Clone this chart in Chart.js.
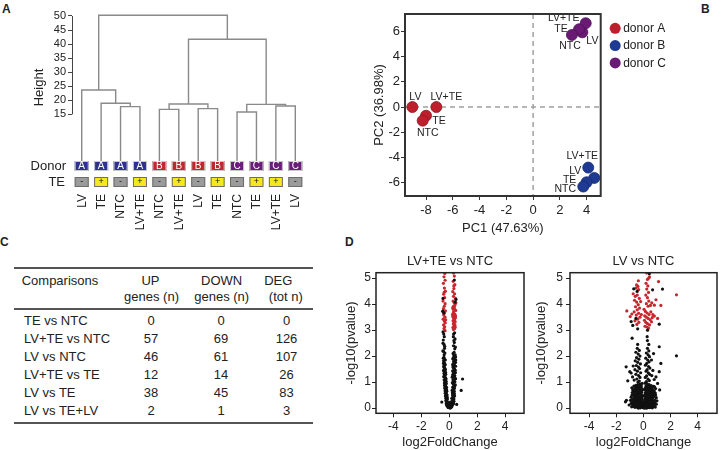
<!DOCTYPE html>
<html>
<head>
<meta charset="utf-8">
<script src="https://cdn.jsdelivr.net/npm/chart.js@4.4.1/dist/chart.umd.min.js"></script>
<style>
  html, body { margin: 0; padding: 0; background: #fff; }
  body { width: 721px; height: 450px; position: relative; overflow: hidden;
         font-family: "Liberation Sans", Arial, sans-serif; color: #222; }
  .box { position: absolute; }
  .tag { position: absolute; font-weight: bold; font-size: 12px; line-height: 12px; }
  .rule { position: absolute; left: 14px; width: 299px; background: #555; }
  .cell { position: absolute; font-size: 13px; line-height: 15px; white-space: nowrap; }
  canvas { display: block; }
</style>
</head>
<body>
<div class="tag" style="left:2px;top:3px">A</div>
<div class="tag" style="left:701px;top:3px">B</div>
<div class="tag" style="left:0px;top:236px">C</div>
<div class="tag" style="left:345px;top:236px">D</div>

<div class="box" style="left:0;top:0;width:320px;height:240px"><canvas id="dendro"></canvas></div>
<div class="box" style="left:360px;top:0;width:361px;height:240px"><canvas id="pca"></canvas></div>
<div id="tableC"></div>
<div class="box" style="left:340px;top:250px;width:190px;height:200px"><canvas id="volc1"></canvas></div>
<div class="box" style="left:530px;top:250px;width:191px;height:200px"><canvas id="volc2"></canvas></div>

<script>
// ---------- A: clustering ----------
const leafNames = ['LV', 'TE', 'NTC', 'LV+TE', 'NTC', 'LV+TE', 'LV', 'TE', 'NTC', 'TE', 'LV+TE', 'LV'];
const leafDonor = ['A', 'A', 'A', 'A', 'B', 'B', 'B', 'B', 'C', 'C', 'C', 'C'];
const leafTE = ['-', '+', '-', '+', '-', '+', '-', '+', '-', '+', '+', '-'];
// hclust style merges: negative = leaf, positive = earlier merge
const mergeA = [-9, -5, -7, -3, -11, 1, 2, -2, -1, 7, 9];
const mergeB = [-10, -6, -8, -4, -12, 5, 3, 4, 8, 6, 10];
const mergeHeight = [15.83, 16.78, 17.02, 17.73, 17.97, 18.56, 18.68, 18.92, 23.66, 41.70, 50.24];
const heightTicks = [15, 20, 25, 30, 35, 40, 45, 50];

// ---------- B: PCA ----------
const donorNames = ['donor A', 'donor B', 'donor C'];
const sampleNames = ['LV', 'LV+TE', 'TE', 'NTC'];
const pc1A = [-9.02, -7.23, -8.00, -8.25];
const pc2A = [0.00, 0.00, -0.69, -1.08];
const pc1B = [4.57, 4.12, 4.00, 3.75];
const pc2B = [-5.62, -4.80, -5.96, -6.30];
const pc1C = [3.68, 3.93, 3.43, 2.90];
const pc2C = [5.92, 6.64, 6.16, 5.71];
const pc1Ticks = [-8, -6, -4, -2, 0, 2, 4];
const pc2Ticks = [-6, -4, -2, 0, 2, 4, 6];

// ---------- C: table ----------
const compNames = ['TE vs NTC', 'LV+TE vs NTC', 'LV vs NTC', 'LV+TE vs TE', 'LV vs TE', 'LV vs TE+LV'];
const upGenes = [0, 57, 46, 12, 38, 2];
const downGenes = [0, 69, 61, 14, 45, 1];
const degTotal = [0, 126, 107, 26, 83, 3];

// ---------- D: volcano plots ----------
const volcTitles = ['LV+TE vs NTC', 'LV vs NTC'];
const fcTicks = [-4, -2, 0, 2, 4];
const pvalTicks = [0, 1, 2, 3, 4, 5];

const lvteRed = [
  [-0.32,5.18],[-0.38,5.05],[-0.30,4.92],[-0.42,4.80],[-0.35,4.62],[-0.28,4.50],[-0.40,4.38],[-0.33,4.25],
  [-0.45,4.12],[-0.30,4.02],[-0.36,3.92],[-0.42,3.83],[-0.28,3.74],[-0.34,3.66],[-0.40,3.58],[-0.31,3.50],
  [-0.44,3.42],[-0.36,3.35],[-0.29,3.28],[-0.41,3.20],[-0.33,3.13],[-0.38,3.06],[-0.30,2.98],[-0.43,3.70],
  [-0.37,4.45],[-0.26,3.40],
  [0.30,5.20],[0.36,5.08],[0.28,4.88],[0.40,4.75],[0.33,4.60],[0.25,4.48],[0.38,4.40],[0.30,4.30],
  [0.44,4.22],[0.27,4.12],[0.35,4.05],[0.41,3.98],[0.30,3.92],[0.24,3.86],[0.37,3.82],[0.46,3.76],
  [0.32,3.72],[0.28,3.66],[0.40,3.62],[0.35,3.56],[0.25,3.52],[0.44,3.48],[0.31,3.44],[0.38,3.40],
  [0.27,3.36],[0.42,3.32],[0.34,3.28],[0.29,3.24],[0.40,3.20],[0.33,3.15],[0.26,3.10],[0.38,3.06],
  [0.30,3.02],[0.45,3.55],[0.36,3.90],[0.23,3.60],[0.47,4.05],[0.32,4.70],[0.29,3.80],[0.43,3.12]
];
const lvteBlack = [
  [-0.45,4.22],[-0.47,3.73],[-0.40,3.66],[0.36,4.93],[0.48,4.18],[0.42,4.08],
  [-0.45,2.93],[-0.40,2.85],[-0.36,2.75],[-0.43,2.62],[-0.38,2.45],[-0.34,2.30],[-0.41,2.18],[-0.37,2.05],
  [-0.45,2.50],[-0.46,2.20],[-0.33,2.38],[-0.32,2.12],
  [0.38,2.90],[0.29,2.75],[0.41,2.66],[0.36,2.52],[0.30,2.40],[0.39,2.28],[0.34,2.15],[0.42,2.05],
  [0.27,2.10],[0.44,2.35],[0.33,2.60],[0.31,2.85],
  [-0.38,1.95],[-0.33,1.88],[-0.41,1.82],[-0.36,1.75],[-0.30,1.68],[-0.39,1.62],[-0.34,1.55],[-0.28,1.48],
  [-0.37,1.42],[-0.32,1.36],[-0.26,1.30],[-0.35,1.24],[-0.30,1.18],[-0.24,1.12],[-0.33,1.06],[-0.28,1.00],
  [-0.22,0.95],[-0.31,0.90],[-0.26,0.85],[-0.20,0.80],[-0.29,0.75],[-0.24,0.70],[-0.18,0.65],[-0.27,0.60],
  [-0.22,0.55],[-0.16,0.50],[-0.25,0.45],[-0.20,0.40],[-0.14,0.35],[-0.22,0.30],[-0.17,0.25],[-0.54,0.23],
  [-0.12,0.20],[-0.18,0.15],[-0.10,0.12],[-0.14,0.08],[-0.08,0.05],
  [-0.43,1.92],[-0.29,1.85],[-0.42,1.72],[-0.33,1.65],[-0.40,1.58],[-0.31,1.51],[-0.41,1.45],[-0.27,1.38],
  [-0.38,1.33],[-0.31,1.27],[-0.40,1.21],[-0.26,1.15],[-0.37,1.09],[-0.23,1.03],[-0.35,0.97],[-0.27,0.92],
  [-0.34,0.87],[-0.25,0.82],[-0.33,0.77],[-0.20,0.72],[-0.30,0.67],[-0.22,0.62],[-0.29,0.57],[-0.20,0.52],
  [-0.28,0.47],[-0.15,0.42],[-0.25,0.37],[-0.17,0.32],[-0.24,0.27],[-0.14,0.22],[-0.22,0.17],[-0.18,0.10],
  [0.32,2.00],[0.40,1.94],[0.28,1.88],[0.36,1.82],[0.44,1.76],[0.30,1.70],[0.38,1.64],[0.26,1.58],
  [0.34,1.52],[0.42,1.46],[0.29,1.40],[0.37,1.34],[0.24,1.28],[0.33,1.22],[0.40,1.16],[0.27,1.10],
  [0.35,1.04],[0.22,0.98],[0.31,0.92],[0.38,0.86],[0.25,0.80],[0.33,0.74],[0.20,0.68],[0.29,0.62],
  [0.36,0.56],[0.23,0.50],[0.30,0.44],[0.18,0.38],[0.26,0.32],[0.33,0.26],[0.16,0.20],[0.23,0.15],
  [0.12,0.10],[0.18,0.06],[0.53,0.14],
  [0.45,1.97],[0.26,1.91],[0.46,1.85],[0.31,1.79],[0.39,1.73],[0.24,1.67],[0.45,1.61],[0.31,1.55],
  [0.38,1.49],[0.24,1.43],[0.44,1.37],[0.30,1.31],[0.39,1.25],[0.21,1.19],[0.45,1.13],[0.30,1.07],
  [0.40,1.01],[0.27,0.95],[0.43,0.89],[0.29,0.83],[0.37,0.77],[0.26,0.71],[0.35,0.65],[0.22,0.59],
  [0.31,0.53],[0.38,0.47],[0.25,0.41],[0.33,0.35],[0.20,0.29],[0.28,0.23],[0.30,0.17],[0.22,0.12],
  [0.00,0.02],[0.04,0.05],[-0.04,0.04],[0.08,0.03],[-0.06,0.08],[0.02,0.10],[0.06,0.12],[-0.02,0.14],
  [0.10,0.07],[-0.08,0.02],[0.12,0.02],[0.00,0.18],[0.06,0.00],[-0.02,0.07],[0.14,0.05],[-0.10,0.06],
  [0.08,0.16],[-0.05,0.12],[0.16,0.12],[0.03,0.22],
  [0.95,1.12],[0.85,0.68]
];

const lvRed = [
  [0.24,5.20],[0.39,5.00],[0.45,5.05],[0.30,4.95],[1.12,4.87],[-0.37,4.90],[-0.50,4.74],[-0.40,4.68],
  [-0.55,4.62],[-0.35,4.56],[0.20,4.80],[0.33,4.70],[0.25,4.58],[0.38,4.45],[0.18,4.35],[0.30,4.25],
  [0.40,4.12],[0.22,4.02],[0.35,3.92],[-0.75,4.40],[-0.60,4.30],[-0.45,4.35],[-0.30,4.22],[-0.65,4.15],
  [-0.50,4.08],[-0.38,3.98],[-0.58,3.90],[-0.28,3.85],[-0.45,3.78],[-0.68,3.70],[-0.35,3.65],[-0.52,3.58],
  [-0.25,3.50],[-0.42,3.42],[-0.62,3.36],[-0.33,3.30],[-0.48,3.22],[-1.22,3.74],[-0.97,3.52],[0.93,4.17],
  [1.29,3.95],[0.81,3.96],[0.81,3.54],[2.44,4.36],[0.05,3.80],[0.15,3.72],[0.28,3.66],[0.42,3.60],
  [0.55,3.70],[0.10,3.55],[0.22,3.50],[0.35,3.45],[0.50,3.40],[0.65,3.48],[0.08,3.38],[0.18,3.30],
  [0.30,3.25],[0.45,3.20],[0.60,3.32],[0.25,3.12],[0.38,3.08],[0.12,3.15],[0.70,3.60],[0.52,3.95],
  [0.62,4.05],[-0.20,4.10],[-0.15,3.60],[1.05,3.45],[-0.85,3.62]
];
const lvBlack = [
  [0.44,5.17],[-0.71,4.59],[-0.46,4.49],[0.68,4.55],[1.41,4.58],[-0.90,3.33],[-0.78,3.18],[-0.42,3.05],
  [0.31,3.00],[1.17,3.23],[-0.83,2.69],[0.30,2.60],[-0.42,2.45],[0.40,2.45],[1.17,2.36],[0.28,2.75],
  [-0.55,3.45],[2.44,2.01],
  [-0.45,2.30],[-0.30,2.22],[-0.55,2.15],[-0.38,2.08],[-0.25,2.00],[-0.50,1.94],[-0.33,1.88],[-0.60,1.82],
  [-0.42,1.76],[-0.22,1.70],[-0.52,1.64],[-0.36,1.58],[-0.28,1.52],[-0.62,1.48],[-0.44,1.42],[-0.20,1.36],
  [-0.55,1.30],[-0.35,1.25],[-0.25,1.18],[-0.48,1.12],[-0.68,1.08],[-0.30,1.04],[-0.40,1.00],
  [0.30,2.30],[0.40,2.20],[0.22,2.12],[0.35,2.05],[0.45,1.98],[0.18,1.92],[0.32,1.85],[0.42,1.78],
  [0.25,1.72],[0.15,1.65],[0.38,1.60],[0.48,1.54],[0.28,1.48],[0.20,1.42],[0.36,1.36],[0.46,1.30],
  [0.24,1.24],[0.14,1.18],[0.34,1.12],[0.44,1.06],[0.22,1.02],
  [-1.27,1.59],[-1.00,1.40],[-0.90,1.35],[1.29,1.72],[1.17,1.40],[0.93,1.20],[0.70,1.45],[0.62,1.25],
  [-0.80,1.20],[0.80,1.10],[-1.15,1.05],[1.05,0.95],[-1.32,0.24],[-1.25,0.30],[1.20,0.70],[-0.75,1.62],
  [0.60,1.85],[0.75,2.10],
  [-0.10,0.95],[-0.25,0.92],[-0.40,0.90],[-0.55,0.88],[-0.70,0.85],[-0.15,0.82],[-0.32,0.80],[-0.48,0.78],
  [-0.62,0.75],[-0.85,0.78],[-0.08,0.72],[-0.22,0.70],[-0.38,0.68],[-0.52,0.66],[-0.68,0.64],[-0.12,0.60],
  [-0.28,0.58],[-0.44,0.56],[-0.58,0.54],[-0.75,0.52],[-0.06,0.48],[-0.18,0.46],[-0.34,0.44],[-0.50,0.42],
  [-0.65,0.40],[-0.90,0.42],[-0.10,0.36],[-0.24,0.34],[-0.40,0.32],[-0.56,0.30],[-0.72,0.28],[-0.05,0.25],
  [-0.16,0.24],[-0.30,0.22],[-0.46,0.20],[-0.62,0.18],[-0.82,0.22],[-0.08,0.14],[-0.20,0.12],[-0.36,0.10],
  [-0.52,0.08],[-0.68,0.06],[-0.95,0.30],[-0.03,0.05],[-0.14,0.04],[-0.28,0.03],[-0.42,0.02],[-1.05,0.12],
  [-0.78,0.10],
  [-0.18,0.88],[-0.33,0.86],[-0.47,0.84],[-0.63,0.81],[-0.78,0.70],[-0.25,0.76],[-0.40,0.74],[-0.56,0.71],
  [-0.73,0.68],[-0.15,0.65],[-0.30,0.63],[-0.46,0.61],[-0.62,0.59],[-0.82,0.60],[-0.20,0.52],[-0.36,0.50],
  [-0.52,0.48],[-0.68,0.46],[-0.84,0.50],[-0.14,0.41],[-0.29,0.39],[-0.45,0.37],[-0.60,0.35],[-0.80,0.34],
  [-0.18,0.29],[-0.34,0.27],[-0.50,0.25],[-0.68,0.23],[-0.90,0.18],[-0.11,0.19],[-0.26,0.17],[-0.41,0.15],
  [-0.57,0.13],[-0.74,0.14],[-0.02,0.10],[-0.12,0.08],[-0.30,0.07],[-0.46,0.05],[-0.62,0.03],[-0.86,0.05],
  [-0.22,0.01],[-0.36,0.00],
  [0.12,0.96],[0.28,0.93],[0.42,0.90],[0.58,0.87],[0.75,0.84],[0.18,0.80],[0.34,0.78],[0.50,0.76],
  [0.66,0.73],[0.90,0.75],[0.08,0.70],[0.24,0.68],[0.40,0.66],[0.55,0.63],[0.72,0.61],[0.14,0.58],
  [0.30,0.56],[0.46,0.54],[0.62,0.51],[0.80,0.49],[0.06,0.46],[0.20,0.44],[0.36,0.42],[0.52,0.40],
  [0.68,0.38],[0.95,0.40],[0.11,0.34],[0.26,0.32],[0.42,0.30],[0.58,0.28],[0.75,0.26],[0.05,0.23],
  [0.17,0.22],[0.32,0.20],[0.48,0.18],[0.65,0.16],[0.85,0.20],[0.09,0.13],[0.22,0.11],[0.38,0.09],
  [0.54,0.07],[0.70,0.05],[1.00,0.28],[0.03,0.04],[0.15,0.03],[0.30,0.02],[0.45,0.02],[0.00,0.01],
  [0.80,0.08],
  [0.20,0.86],[0.35,0.84],[0.50,0.82],[0.66,0.80],[0.82,0.82],[0.12,0.75],[0.27,0.73],[0.43,0.71],
  [0.60,0.69],[0.80,0.66],[0.20,0.62],[0.36,0.60],[0.53,0.58],[0.70,0.55],[0.88,0.58],[0.12,0.51],
  [0.27,0.49],[0.42,0.47],[0.58,0.45],[0.75,0.43],[0.90,0.50],[0.17,0.38],[0.33,0.36],[0.49,0.34],
  [0.65,0.32],[0.85,0.30],[0.10,0.28],[0.24,0.27],[0.40,0.25],[0.55,0.23],[0.72,0.21],[0.95,0.15],
  [0.01,0.17],[0.14,0.16],[0.29,0.14],[0.45,0.12],[0.61,0.10],[0.78,0.13],[0.06,0.07],[0.20,0.06],
  [0.36,0.04],[0.52,0.03],[0.66,0.01],[0.88,0.04],[0.10,0.00],[0.24,0.00]
];

// ---------- common ----------
Chart.defaults.font.family = '"Liberation Sans", Arial, sans-serif';
Chart.defaults.color = '#222';
Chart.defaults.animation = false;
Chart.defaults.plugins.legend.display = false;
Chart.defaults.plugins.tooltip.enabled = false;

const setTicks = vals => scale => { scale.ticks = vals.map(v => ({ value: v })); };

const framePlugin = {
  id: 'frame',
  afterDraw(chart, args, opts) {
    const { ctx, chartArea: a } = chart;
    ctx.save();
    ctx.strokeStyle = opts.color || '#333';
    ctx.lineWidth = opts.width || 1.5;
    ctx.strokeRect(a.left, a.top, a.right - a.left, a.bottom - a.top);
    ctx.restore();
  }
};

// ---------- A: dendrogram ----------
const donorColor = { A: '#2e3192', B: '#c1272d', C: '#6b1d7b' };
const leafBase = -1.6;
const nodeX = [], nodeY = [];
const nodePos = id => id < 0 ? [-id, leafBase] : [nodeX[id - 1], nodeY[id - 1]];
const links = mergeA.map((a, i) => {
  const [xa, ya] = nodePos(a);
  const [xb, yb] = nodePos(mergeB[i]);
  const h = mergeHeight[i];
  nodeX.push((xa + xb) / 2);
  nodeY.push(h);
  return {
    data: [{ x: xa, y: ya }, { x: xa, y: h }, { x: xb, y: h }, { x: xb, y: yb }],
    showLine: true, borderColor: '#8a8a8a', borderWidth: 1.4, pointRadius: 0, fill: false
  };
});

const annotPlugin = {
  id: 'annot',
  afterDraw(chart) {
    const { ctx, chartArea } = chart;
    const xs = chart.scales.x, ys = chart.scales.y;
    ctx.save();
    // axis line only over the labelled range
    ctx.strokeStyle = '#444';
    ctx.lineWidth = 1;
    ctx.beginPath();
    ctx.moveTo(chartArea.left + 0.5, ys.getPixelForValue(heightTicks[0]));
    ctx.lineTo(chartArea.left + 0.5, ys.getPixelForValue(heightTicks[heightTicks.length - 1]));
    ctx.stroke();

    const row1 = chartArea.bottom, row2 = chartArea.bottom + 16;
    ctx.font = '13px "Liberation Sans", Arial, sans-serif';
    ctx.fillStyle = '#222';
    ctx.textAlign = 'right';
    ctx.textBaseline = 'middle';
    ctx.fillText('Donor', chartArea.left - 6, row1 + 5.5);
    ctx.fillText('TE', chartArea.left - 7, row2 + 5.5);

    leafNames.forEach((name, i) => {
      const px = xs.getPixelForValue(i + 1);
      ctx.fillStyle = donorColor[leafDonor[i]];
      ctx.fillRect(px - 7, row1, 14, 10);
      ctx.strokeStyle = '#c9c9c9';
      ctx.strokeRect(px - 6.5, row1 + 0.5, 13, 9);
      ctx.fillStyle = '#fff';
      ctx.textAlign = 'center';
      ctx.font = '10px "Liberation Sans", Arial, sans-serif';
      ctx.fillText(leafDonor[i], px, row1 + 5.5);

      const plus = leafTE[i] === '+';
      ctx.fillStyle = plus ? '#f6e81c' : '#9b9b9b';
      ctx.fillRect(px - 7, row2, 14, 10);
      ctx.strokeStyle = '#6d6d6d';
      ctx.strokeRect(px - 6.5, row2 + 0.5, 13, 9);
      ctx.fillStyle = '#111';
      ctx.font = '9px "Liberation Sans", Arial, sans-serif';
      ctx.fillText(leafTE[i], px, row2 + 5);

      ctx.save();
      ctx.translate(px, row2 + 17);
      ctx.rotate(-Math.PI / 2);
      ctx.textAlign = 'right';
      ctx.fillStyle = '#222';
      ctx.font = '12px "Liberation Sans", Arial, sans-serif';
      ctx.fillText(name, 0, 0.5);
      ctx.restore();
    });
    ctx.restore();
  }
};

new Chart(document.getElementById('dendro'), {
  type: 'scatter',
  data: { datasets: links },
  options: {
    responsive: true, maintainAspectRatio: false,
    layout: { padding: { left: 28, right: 15, top: 14, bottom: 79 } },
    scales: {
      x: { type: 'linear', display: false, min: 0.5, max: 12.5 },
      y: {
        min: leafBase, max: 50.7,
        afterBuildTicks: setTicks(heightTicks),
        afterFit: s => { s.width = 44; },
        ticks: { font: { size: 11 }, padding: 2, color: '#222' },
        grid: { drawOnChartArea: false, tickLength: 4, color: '#444' },
        border: { display: false },
        title: { display: true, text: 'Height', font: { size: 13 }, padding: { top: 4, bottom: 0 }, color: '#222' }
      }
    }
  },
  plugins: [annotPlugin]
});

// ---------- B: PCA ----------
const pcaColors = ['#bd1f2d', '#1f3a93', '#6a1a75'];
const pcaEdge = ['#8e1620', '#142a6e', '#4c1254'];
const labelOffsets = [
  [[3, -10], [10, -10], [13, 5], [5, 12]],
  [[-19, -7], [-6, -11], [-17, -2], [-18, 3]],
  [[10, 9], [-22, -5], [-18, 0], [-2, 11]]
];
const pcaSets = [[pc1A, pc2A], [pc1B, pc2B], [pc1C, pc2C]].map(([xs, ys], d) => ({
  label: donorNames[d],
  data: xs.map((x, i) => ({ x, y: ys[i] })),
  pointRadius: 5.5,
  backgroundColor: pcaColors[d],
  borderColor: pcaEdge[d],
  borderWidth: 0.8
}));

const pcaPlugin = {
  id: 'pcaExtras',
  beforeDatasetsDraw(chart) {
    const { ctx, chartArea: a } = chart;
    const x0 = chart.scales.x.getPixelForValue(0), y0 = chart.scales.y.getPixelForValue(0);
    ctx.save();
    ctx.strokeStyle = '#a0a0a0';
    ctx.lineWidth = 1.5;
    ctx.setLineDash([5, 4]);
    ctx.beginPath();
    ctx.moveTo(x0, a.top); ctx.lineTo(x0, a.bottom);
    ctx.moveTo(a.left, y0); ctx.lineTo(a.right, y0);
    ctx.stroke();
    ctx.restore();
  },
  afterDatasetsDraw(chart) {
    const { ctx, chartArea: a } = chart;
    ctx.save();
    ctx.font = '10.5px "Liberation Sans", Arial, sans-serif';
    ctx.fillStyle = '#222';
    ctx.textAlign = 'center';
    ctx.textBaseline = 'middle';
    chart.data.datasets.forEach((ds, d) => {
      chart.getDatasetMeta(d).data.forEach((pt, i) => {
        const [dx, dy] = labelOffsets[d][i];
        ctx.fillText(sampleNames[i], pt.x + dx, pt.y + dy);
      });
    });
    // legend
    ctx.font = '12px "Liberation Sans", Arial, sans-serif';
    ctx.textAlign = 'left';
    chart.data.datasets.forEach((ds, d) => {
      const cx = a.right + 14.5, cy = a.top + 14.3 + d * 17.3;
      ctx.beginPath();
      ctx.arc(cx, cy, 5.5, 0, Math.PI * 2);
      ctx.fillStyle = ds.backgroundColor;
      ctx.fill();
      ctx.fillStyle = '#222';
      ctx.fillText(ds.label, cx + 8, cy + 0.5);
    });
    ctx.restore();
  }
};

new Chart(document.getElementById('pca'), {
  type: 'scatter',
  data: { datasets: pcaSets },
  options: {
    responsive: true, maintainAspectRatio: false,
    layout: { padding: { left: 8, right: 120.3, top: 14, bottom: 0 } },
    plugins: { frame: { color: '#333', width: 2 } },
    scales: {
      x: {
        min: -9.57, max: 5.05,
        afterBuildTicks: setTicks(pc1Ticks),
        afterFit: s => { s.height = 44; },
        ticks: { font: { size: 13 }, padding: 3, color: '#222' },
        grid: { drawOnChartArea: false, tickLength: 4, color: '#333' },
        border: { display: false },
        title: { display: true, text: 'PC1 (47.63%)', font: { size: 13 }, padding: { top: 0, bottom: 4 }, color: '#222' }
      },
      y: {
        min: -7.05, max: 7.37,
        afterBuildTicks: setTicks(pc2Ticks),
        afterFit: s => { s.width = 37; },
        ticks: { font: { size: 13 }, padding: 1, color: '#222' },
        grid: { drawOnChartArea: false, tickLength: 4, color: '#333' },
        border: { display: false },
        title: { display: true, text: 'PC2 (36.98%)', font: { size: 13 }, padding: { top: 4, bottom: 0 }, color: '#222' }
      }
    }
  },
  plugins: [framePlugin, pcaPlugin]
});

// ---------- C: table ----------
const tableC = document.getElementById('tableC');
function cell(text, x, cy, align) {
  const el = document.createElement('div');
  el.className = 'cell';
  el.textContent = text;
  el.style.top = (cy - 7.35) + 'px';
  el.style.left = x + 'px';
  if (align === 'center') el.style.transform = 'translateX(-50%)';
  tableC.appendChild(el);
}
function rule(y, h) {
  const el = document.createElement('div');
  el.className = 'rule';
  el.style.top = y + 'px';
  el.style.height = h + 'px';
  tableC.appendChild(el);
}
rule(267, 1.5);
rule(307.5, 2);
rule(421.8, 2);
cell('Comparisons', 21.7, 280, 'left');
cell('UP', 150.5, 280, 'center');
cell('genes (n)', 151.5, 296, 'center');
cell('DOWN', 221.7, 280, 'center');
cell('genes (n)', 221.7, 296, 'center');
cell('DEG', 278.3, 280, 'center');
cell('(tot n)', 285.8, 296, 'center');
compNames.forEach((name, i) => {
  const cy = 320 + i * 18;
  cell(name, 24, cy, 'left');
  cell(String(upGenes[i]), 151, cy, 'center');
  cell(String(downGenes[i]), 221, cy, 'center');
  cell(String(degTotal[i]), 286.5, cy, 'center');
});

// ---------- D: volcano plots ----------
function volcano(id, title, black, red, lay) {
  new Chart(document.getElementById(id), {
    type: 'scatter',
    data: {
      datasets: [
        { data: black.map(([x, y]) => ({ x, y })), backgroundColor: '#111', pointRadius: 1.6, borderWidth: 0 },
        { data: red.map(([x, y]) => ({ x, y })), backgroundColor: '#c8262d', pointRadius: 1.6, borderWidth: 0 }
      ]
    },
    options: {
      responsive: true, maintainAspectRatio: false,
      layout: { padding: { left: lay.left, right: lay.right, top: 0, bottom: 0 } },
      plugins: {
        title: { display: true, text: title, fullSize: false, color: '#222',
                 font: { size: 13, weight: 'normal' }, padding: { top: 4, bottom: 3.1 } },
        frame: { color: '#222', width: 1.5 }
      },
      scales: {
        x: {
          min: lay.xmin, max: lay.xmax,
          afterBuildTicks: setTicks(fcTicks),
          afterFit: s => { s.height = 36.7; },
          ticks: { font: { size: 12 }, padding: 2, color: '#222' },
          grid: { drawOnChartArea: false, tickLength: 4, color: '#222' },
          border: { display: false },
          title: { display: true, text: 'log2FoldChange', font: { size: 13, lineHeight: 1.1 }, padding: { top: 0, bottom: 0 }, color: '#222' }
        },
        y: {
          min: -0.2, max: 5.21,
          afterBuildTicks: setTicks(pvalTicks),
          afterFit: s => { s.width = lay.yWidth; },
          ticks: { font: { size: 12 }, padding: lay.tickPad, color: '#222' },
          grid: { drawOnChartArea: false, tickLength: 4, color: '#222' },
          border: { display: false },
          title: { display: true, text: '-log10(pvalue)', font: { size: 13 }, padding: { top: lay.titlePad, bottom: 0 }, color: '#222' }
        }
      }
    },
    plugins: [framePlugin]
  });
}

volcano('volc1', volcTitles[0], lvteBlack, lvteRed,
        { left: 2, right: 6, yWidth: 34, tickPad: 1, titlePad: 2, xmin: -5.25, xmax: 5.35 });
volcano('volc2', volcTitles[1], lvBlack, lvRed,
        { left: 4, right: 2.7, yWidth: 36, tickPad: 3, titlePad: 0, xmin: -5.41, xmax: 5.43 });
</script>
</body>
</html>
